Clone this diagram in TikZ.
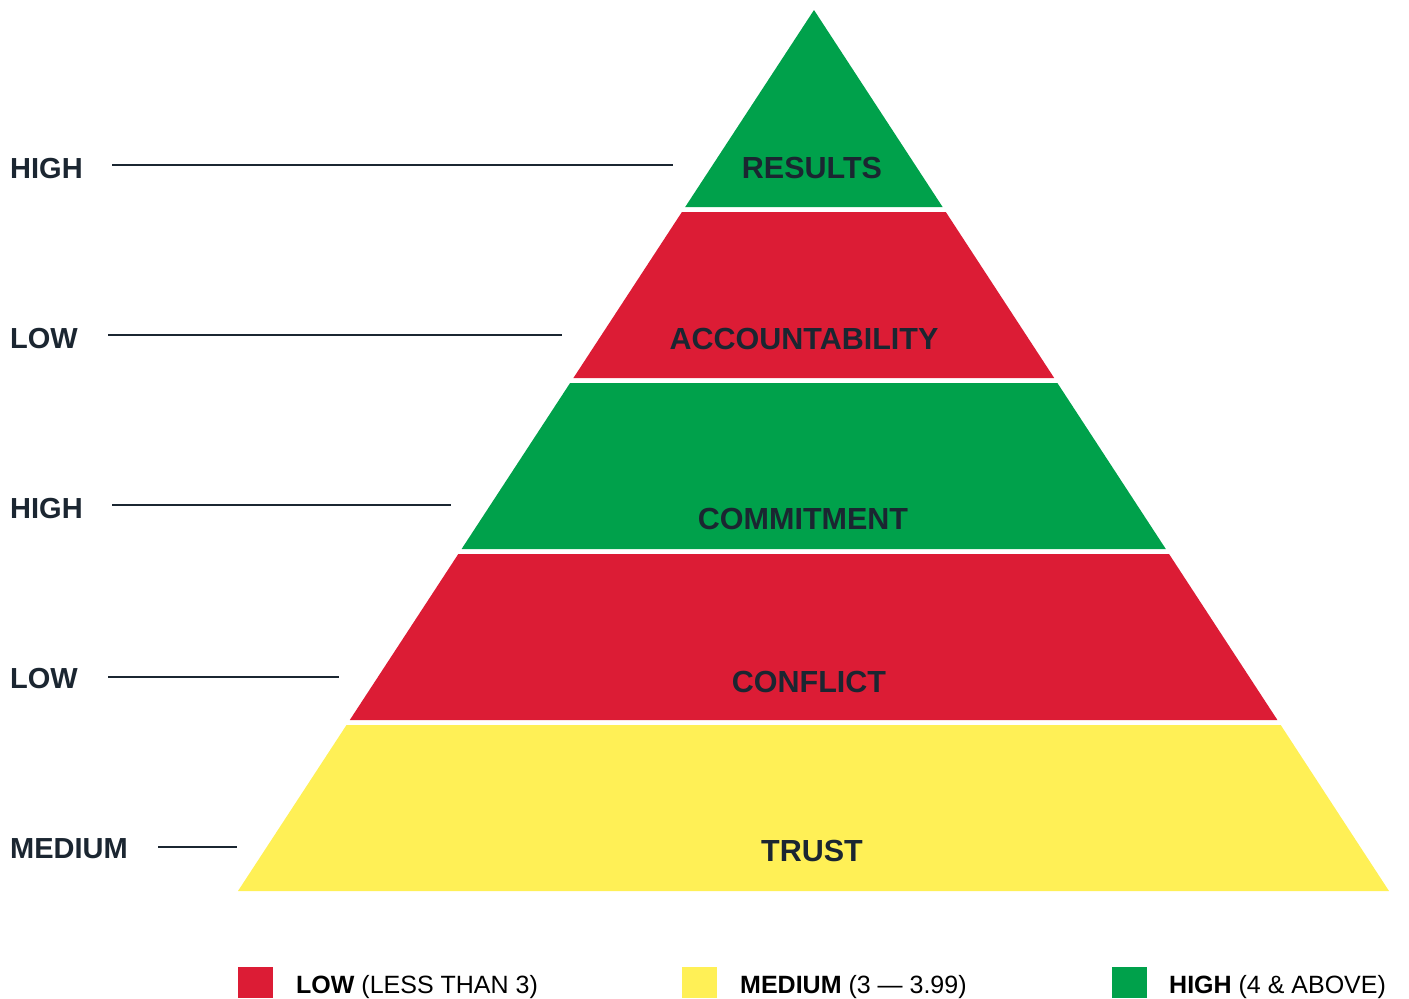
\documentclass[tikz,border=0pt]{standalone}
\usepackage{fontspec}
\setmainfont{Liberation Sans}
\definecolor{pgreen}{HTML}{00A14B}
\definecolor{pred}{HTML}{DC1C35}
\definecolor{pyellow}{HTML}{FFF056}
\definecolor{navy}{HTML}{1B2631}
\begin{document}
\begin{tikzpicture}[x=1pt,y=-1pt,
  lvl/.style={font=\fontsize{30.5}{32}\selectfont\bfseries, text=navy, inner sep=0pt, anchor=base},
  side/.style={font=\fontsize{29}{30}\selectfont\bfseries, text=navy, inner sep=0pt, anchor=base west},
  leader/.style={draw=navy, line width=1.8pt},
  legtext/.style={font=\fontsize{25}{27}\selectfont, text=black, inner sep=0pt, anchor=base west},
  legbox/.style={minimum width=35pt, minimum height=31pt, inner sep=0pt, anchor=north west}]
\useasboundingbox (0,0) rectangle (1409,999);
% pyramid bands
\fill[pgreen] (814,10) -- (942.6,207) -- (685.2,207) -- cycle;
\fill[pred] (681.9,212) -- (945.8,212) -- (1054.2,378) -- (573.4,378) -- cycle;
\fill[pgreen] (570.1,383) -- (1057.4,383) -- (1165.8,549) -- (461.6,549) -- cycle;
\fill[pred] (458.3,554) -- (1169.05,554) -- (1277.4,720) -- (349.8,720) -- cycle;
\fill[pyellow] (346.5,725) -- (1280.7,725) -- (1389,891) -- (238,891) -- cycle;
% level labels
\node[lvl] (results) at (812,178) {RESULTS};
\node[lvl] (account) at (804,349) {ACCOUNTABILITY};
\node[lvl] (commit) at (803,529) {COMMITMENT};
\node[lvl] (conflict) at (809,692) {CONFLICT};
\node[lvl] (trust) at (812,861) {TRUST};
% side labels
\node[side] (s1) at (10,178) {HIGH};
\node[side] (s2) at (10,348) {LOW};
\node[side] (s3) at (10,518) {HIGH};
\node[side] (s4) at (10,688) {LOW};
\node[side] (s5) at (10,858) {MEDIUM};
\coordinate (a1) at (112,165); \coordinate (b1) at (673,165);
\coordinate (a2) at (108,335); \coordinate (b2) at (562,335);
\coordinate (a3) at (112,505); \coordinate (b3) at (451,505);
\coordinate (a4) at (108,677); \coordinate (b4) at (339,677);
\coordinate (a5) at (158,847); \coordinate (b5) at (237,847);
\draw[leader] (a1) -- (b1);
\draw[leader] (a2) -- (b2);
\draw[leader] (a3) -- (b3);
\draw[leader] (a4) -- (b4);
\draw[leader] (a5) -- (b5);
% legend
\node[legbox, fill=pred] (k1) at (238,967) {};
\node[legtext] (t1) at (296,993) {\textbf{LOW} (LESS THAN 3)};
\node[legbox, fill=pyellow] (k2) at (682,967) {};
\node[legtext] (t2) at (740,993) {\textbf{MEDIUM} (3 — 3.99)};
\node[legbox, fill=pgreen] (k3) at (1112,967) {};
\node[legtext] (t3) at (1169,993) {\textbf{HIGH} (4 \& ABOVE)};
\end{tikzpicture}
\end{document}
